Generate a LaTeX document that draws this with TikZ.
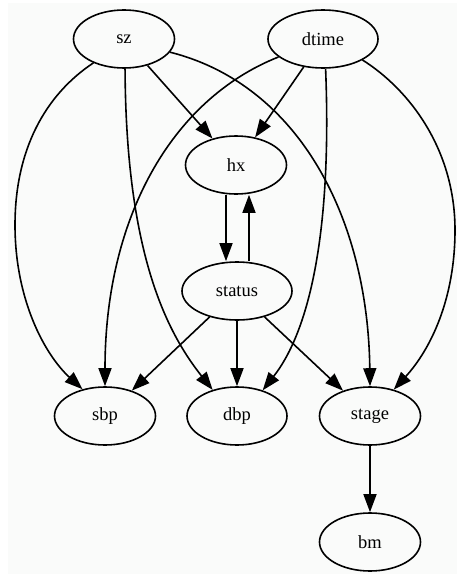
\documentclass[tikz,border=0pt]{standalone}
\usepackage{fontspec}
\setmainfont{Liberation Serif}
\usetikzlibrary{shapes.geometric,arrows.meta}
\definecolor{bgtint}{RGB}{250,251,250}
\begin{document}
\begin{tikzpicture}[x=1pt,y=-1pt,
  var/.style={ellipse,draw,line width=1.6pt,inner sep=0pt,
    minimum width=101pt,minimum height=58pt,
    font=\fontsize{18.5}{20}\selectfont},
  wide/.style={minimum width=110pt},
  edge/.style={line width=1.6pt,-{Triangle[length=18pt,width=13pt]}}]
\useasboundingbox (0,0) rectangle (457,578);
\fill[bgtint] (8,3) rectangle (457,574);

% variables
\node[var]      (sz)     at (124,39)  {sz};
\node[var,wide] (dtime)  at (323,39)  {dtime};
\node[var]      (hx)     at (236,165) {hx};
\node[var,wide] (status) at (237,291) {status};
\node[var]      (sbp)    at (105,416) {sbp};
\node[var,minimum width=100pt] (dbp) at (237,416) {dbp};
\node[var]      (stage)  at (370,416) {stage};
\node[var]      (bm)     at (370,542) {bm};

% straight dependencies
\draw[edge] (sz) -- (hx);
\draw[edge] (dtime) -- (hx);
\draw[edge] ([xshift=-10pt]hx.south) -- ([xshift=-11pt]status.north);
\draw[edge] ([xshift=12pt]status.north) -- ([xshift=13pt]hx.south);
\draw[edge] (status) -- (sbp);
\draw[edge] (status) -- (dbp);
\draw[edge] (status) -- (stage);
\draw[edge] (stage) -- (bm);

% curved dependencies
\draw[edge] (sz.218) .. controls (45,95) and (15,150) .. (15,225)
            .. controls (15,300) and (45,355) .. (sbp.130);
\draw[edge] (sz.-88) .. controls (126,250) and (165,330) .. (dbp.133);
\draw[edge] (sz.-16) .. controls (300,85) and (368,220) .. (stage.north);
\draw[edge] (dtime.202) .. controls (170,100) and (105,220) .. (sbp.north);
\draw[edge] (dtime.-85) .. controls (332,230) and (310,330) .. (dbp.45);
\draw[edge] (dtime.-28) .. controls (410,90) and (455,150) .. (455,230)
            .. controls (455,300) and (430,350) .. (stage.48);
\end{tikzpicture}
\end{document}
